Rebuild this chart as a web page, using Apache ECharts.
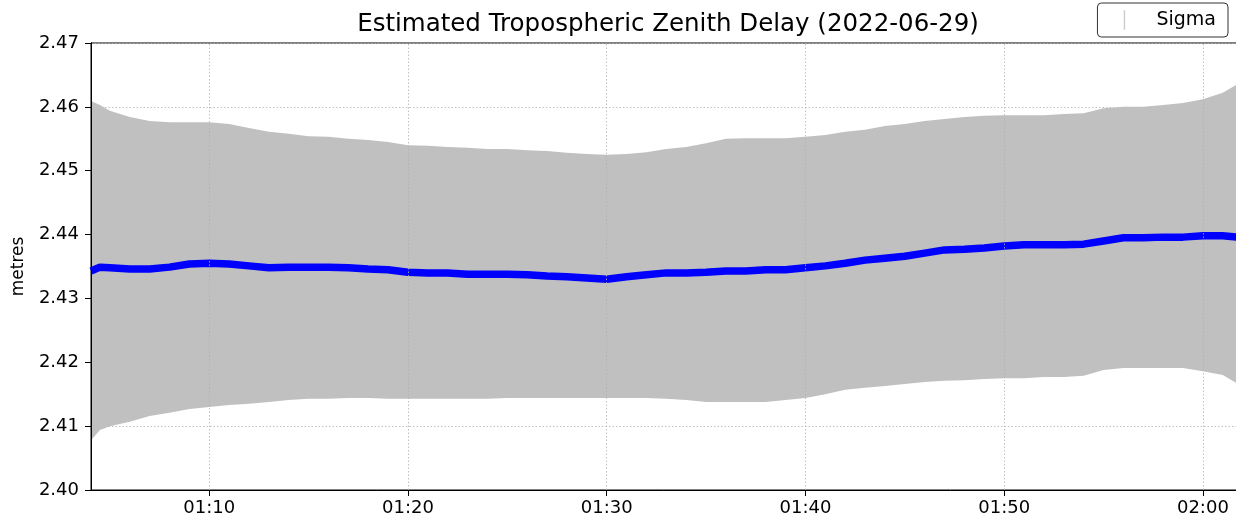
<!DOCTYPE html>
<html>
<head>
<meta charset="utf-8">
<script src="https://cdn.jsdelivr.net/npm/echarts@6/dist/echarts.min.js"></script>
<style>
html,body{margin:0;padding:0;background:#fff;}
#chart{width:1236px;height:525px;}
</style>
</head>
<body>
<div id="chart"></div>
<script>
// ---- data ----
const chartDate = '2022-06-29';
const times = ['01:04:03','01:04:30','01:05:00','01:06:00','01:07:00','01:08:00','01:09:00','01:10:00','01:11:00','01:12:00',
  '01:13:00','01:14:00','01:15:00','01:16:00','01:17:00','01:18:00','01:19:00','01:20:00','01:21:00','01:22:00',
  '01:23:00','01:24:00','01:25:00','01:26:00','01:27:00','01:28:00','01:29:00','01:30:00','01:31:00','01:32:00',
  '01:33:00','01:34:00','01:35:00','01:36:00','01:37:00','01:38:00','01:39:00','01:40:00','01:41:00','01:42:00',
  '01:43:00','01:44:00','01:45:00','01:46:00','01:47:00','01:48:00','01:49:00','01:50:00','01:51:00','01:52:00',
  '01:53:00','01:54:00','01:55:00','01:56:00','01:57:00','01:58:00','01:59:00','02:00:00','02:01:00','02:01:46'];
const estimate = [2.4343,2.4349,2.4348,2.4346,2.4346,2.4349,2.4354,2.4355,2.4354,2.4351,
  2.4348,2.4349,2.4349,2.4349,2.4348,2.4346,2.4345,2.4341,2.4340,2.4340,
  2.4338,2.4338,2.4338,2.4337,2.4335,2.4334,2.4332,2.4330,2.4334,2.4337,
  2.4340,2.4340,2.4341,2.4343,2.4343,2.4345,2.4345,2.4348,2.4351,2.4355,
  2.4360,2.4363,2.4366,2.4371,2.4376,2.4377,2.4379,2.4382,2.4384,2.4384,
  2.4384,2.4385,2.4390,2.4395,2.4395,2.4396,2.4396,2.4398,2.4398,2.4396];
const sigmaUpper = [2.4609,2.4603,2.4594,2.4584,2.4578,2.4576,2.4576,2.4576,2.4573,2.4567,
  2.4561,2.4558,2.4554,2.4553,2.4550,2.4548,2.4545,2.4540,2.4539,2.4537,
  2.4536,2.4534,2.4534,2.4532,2.4531,2.4528,2.4526,2.4525,2.4526,2.4529,
  2.4534,2.4537,2.4543,2.4550,2.4551,2.4551,2.4551,2.4553,2.4556,2.4561,
  2.4564,2.4570,2.4573,2.4578,2.4581,2.4584,2.4586,2.4587,2.4587,2.4587,
  2.4589,2.4590,2.4598,2.4600,2.4600,2.4603,2.4606,2.4612,2.4622,2.4636];
const sigmaLower = [2.4078,2.4094,2.4100,2.4107,2.4116,2.4121,2.4127,2.4130,2.4133,2.4135,
  2.4138,2.4141,2.4143,2.4143,2.4144,2.4144,2.4143,2.4143,2.4143,2.4143,
  2.4143,2.4143,2.4144,2.4144,2.4144,2.4144,2.4144,2.4144,2.4144,2.4144,
  2.4143,2.4141,2.4138,2.4138,2.4138,2.4138,2.4141,2.4144,2.4150,2.4157,
  2.4160,2.4163,2.4166,2.4169,2.4171,2.4172,2.4174,2.4175,2.4175,2.4177,
  2.4177,2.4179,2.4188,2.4191,2.4191,2.4191,2.4191,2.4186,2.4180,2.4166];
const xTickTimes = ['01:10:00','01:20:00','01:30:00','01:40:00','01:50:00','02:00:00'];
const yTicks = [2.40, 2.41, 2.42, 2.43, 2.44, 2.45, 2.46, 2.47];
const titleText = 'Estimated Tropospheric Zenith Delay (2022-06-29)';
const yName = 'metres';
const legendName = 'Sigma';

// ---- build ----
const ts = t => new Date(chartDate + 'T' + t).getTime();
const xs = times.map(ts);
const xTickValues = xTickTimes.map(ts);
const bandData = xs.map((x, i) => [x, sigmaLower[i], sigmaUpper[i]]);
const estData = xs.map((x, i) => [x, estimate[i]]);
const pad2 = n => (n < 10 ? '0' : '') + n;
const fmtTime = v => { const d = new Date(v); return pad2(d.getHours()) + ':' + pad2(d.getMinutes()); };
const yMin = yTicks[0], yMax = yTicks[yTicks.length - 1];

const FONT = 'DejaVu Sans';
const chart = echarts.init(document.getElementById('chart'), null, {renderer: 'canvas'});
chart.setOption({
  animation: false,
  backgroundColor: '#fff',
  title: {
    text: titleText, left: 663, textAlign: 'center', top: 7,
    textStyle: {fontFamily: FONT, fontSize: 24.5, fontWeight: 'normal', color: '#000'}
  },
  legend: {
    right: 8, top: 3,
    data: [{name: legendName,
      icon: 'path://M0,0h0.01v0.01h-0.01Z M17.3,0h1.4v20h-1.4Z M44.99,19.99h0.01v0.01h-0.01Z',
      itemStyle: {color: '#cccccc'}}],
    itemWidth: 45, itemHeight: 21,
    padding: [7, 12, 7, 9],
    borderColor: '#333', borderWidth: 1, borderRadius: 4,
    textStyle: {fontFamily: FONT, fontSize: 19, color: '#000'}
  },
  grid: {left: 91, right: -2, top: 43, bottom: 35, outerBoundsMode: 'none', containLabel: false,
    show: true, borderColor: '#000', borderWidth: 1, backgroundColor: 'transparent'},
  xAxis: {
    type: 'value',
    min: xs[0], max: xs[xs.length - 1],
    axisLine: {show: true, onZero: false, lineStyle: {color: '#000', width: 1}},
    axisTick: {show: true, length: 6, lineStyle: {color: '#000'}, customValues: xTickValues},
    axisLabel: {
      customValues: xTickValues,
      formatter: fmtTime,
      fontFamily: FONT, fontSize: 18, color: '#000', margin: 9, hideOverlap: false
    },
    splitLine: {show: false},
    minorTick: {show: false}
  },
  yAxis: [
    {
      type: 'value',
      min: yMin, max: yMax, interval: 0.01,
      name: yName, nameLocation: 'middle', nameGap: 64, nameRotate: 90,
      nameTextStyle: {fontFamily: FONT, fontSize: 17, color: '#000'},
      axisLine: {show: true, lineStyle: {color: '#000', width: 1}},
      axisTick: {show: true, length: 6, lineStyle: {color: '#000'}},
      axisLabel: {formatter: v => v.toFixed(2), fontFamily: FONT, fontSize: 18, color: '#000', margin: 12},
      splitLine: {show: true, lineStyle: {color: '#b0b0b0', type: [1.5, 2], width: 0.8}}
    },
    {
      // left spine drawn above the sigma band
      type: 'value', position: 'left', offset: 0, z: 10,
      min: yMin, max: yMax, interval: 0.01,
      axisLine: {show: true, onZero: false, lineStyle: {color: '#000', width: 1}},
      axisTick: {show: false}, axisLabel: {show: false}, splitLine: {show: false}
    }
  ],
  series: [
    {
      // vertical dotted grid lines at the labelled times, placed through the axis scale
      type: 'line', name: 'xgrid', data: [], silent: true, z: 1,
      markLine: {
        silent: true, symbol: 'none', label: {show: false},
        lineStyle: {color: '#b0b0b0', type: [1.5, 2], width: 0.8},
        data: xTickValues.map(v => ({xAxis: v}))
      }
    },
    {
      type: 'custom', name: legendName, data: bandData, silent: true, z: 2,
      encode: {x: 0, y: [1, 2]},
      itemStyle: {color: '#c0c0c0'},
      renderItem: (params, api) => {
        if (params.dataIndex !== 0) return null;
        const pts = [];
        for (let i = 0; i < xs.length; i++) pts.push(api.coord([xs[i], sigmaUpper[i]]));
        for (let i = xs.length - 1; i >= 0; i--) pts.push(api.coord([xs[i], sigmaLower[i]]));
        return {type: 'polygon', shape: {points: pts}, style: {fill: '#c0c0c0', stroke: null}};
      }
    },
    {
      type: 'line', name: 'estimate', data: estData,
      symbol: 'none', lineStyle: {color: '#0000ff', width: 7.5}, itemStyle: {color: '#0000ff'}, z: 3
    }
  ]
});
</script>
</body>
</html>
